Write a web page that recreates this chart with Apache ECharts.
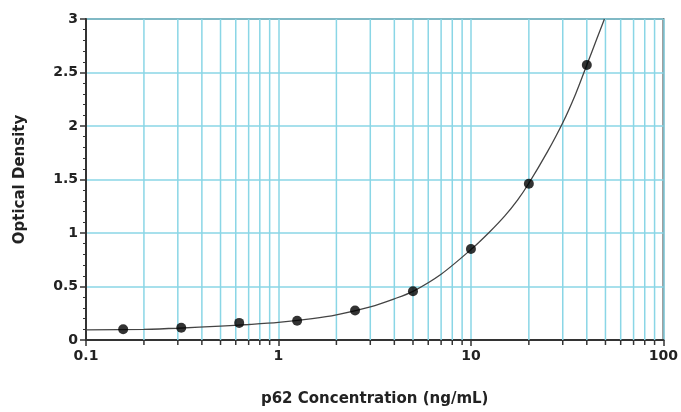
<!DOCTYPE html>
<html>
<head>
<meta charset="utf-8">
<script src="https://cdn.jsdelivr.net/npm/echarts@6/dist/echarts.min.js"></script>
<style>
  html, body { margin: 0; padding: 0; background: #fff; }
  #main { width: 681px; height: 412px; }
</style>
</head>
<body>
<div id="main"></div>
<script>
// standards (ng/mL) and measured OD
const concentrations = [0.156, 0.3125, 0.625, 1.25, 2.5, 5, 10, 20, 40];
const odValues = [0.10, 0.115, 0.16, 0.18, 0.275, 0.455, 0.85, 1.46, 2.57];

// fitted curve
const fitX = [0.1, 0.2, 0.3, 0.5, 0.7, 1, 1.5, 2, 3, 4, 5, 7, 10, 12.5, 15, 17.5, 20, 25, 30, 35, 40, 45, 49.4];
const fitY = [0.095, 0.1, 0.11, 0.13, 0.145, 0.165, 0.2, 0.235, 0.31, 0.385, 0.455, 0.615, 0.845, 1.01, 1.16, 1.31, 1.465, 1.76, 2.03, 2.3, 2.57, 2.81, 3.0];

// log-minor grid positions
const minorGridX = [0.2, 0.3, 0.4, 0.5, 0.6, 0.7, 0.8, 0.9,
  2, 3, 4, 5, 6, 7, 8, 9,
  20, 30, 40, 50, 60, 70, 80, 90];

const xMin = 0.1, xMax = 100, yMin = 0, yMax = 3;
const gridColor = '#8ad6e6';
const axisColor = '#333';
const font = '"DejaVu Sans", sans-serif';

const chart = echarts.init(document.getElementById('main'));

const option = {
  backgroundColor: '#fff',
  animation: false,
  grid: {
    left: 86, right: 13, top: 19, bottom: 72,
    show: true,
    borderColor: '#666',
    borderWidth: 2
  },
  xAxis: {
    type: 'log',
    logBase: 10,
    min: xMin,
    max: xMax,
    name: 'p62 Concentration (ng/mL)',
    nameLocation: 'middle',
    nameGap: 52,
    nameTextStyle: { fontFamily: font, fontWeight: 'bold', fontSize: 15, color: '#222' },
    axisLine: { lineStyle: { color: axisColor, width: 2 } },
    axisTick: { length: 6, lineStyle: { color: axisColor, width: 1.5 } },
    axisLabel: { fontFamily: font, fontWeight: 'bold', fontSize: 14, color: '#222', margin: 9 },
    splitLine: { show: true, lineStyle: { color: gridColor, width: 1.5 } },
    minorTick: { show: false }
  },
  yAxis: {
    type: 'value',
    min: yMin,
    max: yMax,
    interval: 0.5,
    name: 'Optical Density',
    nameLocation: 'middle',
    nameGap: 58,
    nameTextStyle: { fontFamily: font, fontWeight: 'bold', fontSize: 15, color: '#222' },
    axisLine: { show: true, lineStyle: { color: axisColor, width: 2 } },
    axisTick: { show: true, length: 6, lineStyle: { color: axisColor, width: 1.5 } },
    minorTick: { show: true, splitNumber: 5, length: 3, lineStyle: { color: axisColor, width: 1 } },
    axisLabel: { fontFamily: font, fontWeight: 'bold', fontSize: 14, color: '#222', margin: 8 },
    splitLine: { show: true, lineStyle: { color: gridColor, width: 1.5 } }
  },
  series: [
    {
      // minor vertical grid lines with their ticks below the axis
      type: 'custom',
      silent: true,
      clip: false,
      z: 1,
      data: minorGridX.map(v => [v, yMin]),
      renderItem: function (params, api) {
        const x = api.value(0);
        const top = api.coord([x, yMax]);
        const bot = api.coord([x, yMin]);
        return {
          type: 'group',
          children: [
            {
              type: 'line',
              shape: { x1: top[0], y1: top[1], x2: bot[0], y2: bot[1] },
              style: { stroke: gridColor, lineWidth: 1.5 }
            },
            {
              type: 'line',
              shape: { x1: bot[0], y1: bot[1], x2: bot[0], y2: bot[1] + 5 },
              style: { stroke: axisColor, lineWidth: 1.5 }
            }
          ]
        };
      }
    },
    {
      type: 'line',
      data: fitX.map((x, i) => [x, fitY[i]]),
      smooth: 0.3,
      showSymbol: false,
      z: 3,
      lineStyle: { color: '#444', width: 1.3 }
    },
    {
      type: 'scatter',
      data: concentrations.map((x, i) => [x, odValues[i]]),
      symbolSize: 10,
      z: 4,
      itemStyle: { color: '#000' }
    }
  ]
};

chart.setOption(option);
</script>
</body>
</html>
